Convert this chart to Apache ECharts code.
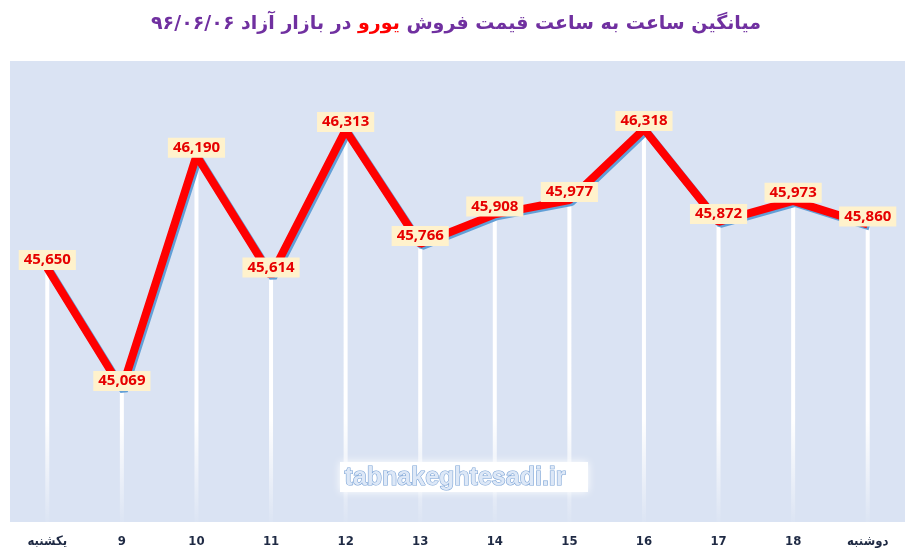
<!DOCTYPE html>
<html>
<head>
<meta charset="utf-8">
<script src="https://cdn.jsdelivr.net/npm/echarts@6/dist/echarts.min.js"></script>
<style>
html, body { margin: 0; padding: 0; background: #fff; }
#plot { width: 912px; height: 556px; }
</style>
</head>
<body>
<div id="plot"></div>
<script>
// hourly euro prices, free market 96/06/06
var hours = ['یکشنبه', '9', '10', '11', '12', '13', '14', '15', '16', '17', '18', 'دوشنبه'];
var prices = [45650, 45069, 46190, 45614, 46313, 45766, 45908, 45977, 46318, 45872, 45973, 45860];
var yMin = 44430, yMax = 46645;

var titleLeft = 'در بازار آزاد ۹۶/۰۶/۰۶';
var titleRed = 'یورو';
var titleRight = 'میانگین ساعت به ساعت قیمت فروش';

var myChart = echarts.init(document.getElementById('plot'));

var option = {
	backgroundColor: '#ffffff',
	animation: false,
	title: {
		left: 'center',
		top: 10,
		text: '{p|' + titleLeft + ' }{r|' + titleRed + '}{p| ' + titleRight + '}',
		textStyle: {
			rich: {
				p: { color: '#7030a0', fontSize: 19, fontWeight: 'bold', fontFamily: 'DejaVu Sans' },
				r: { color: '#ff0000', fontSize: 19, fontWeight: 'bold', fontFamily: 'DejaVu Sans' }
			}
		}
	},
	grid: {
		left: 10, right: 7, top: 61, bottom: 34,
		show: true,
		backgroundColor: '#dae3f3',
		borderWidth: 0
	},
	xAxis: {
		type: 'category',
		data: hours,
		boundaryGap: true,
		axisLine: { show: false },
		axisTick: { show: false },
		splitLine: { show: false },
		axisLabel: {
			color: '#1f2a44',
			fontSize: 13,
			fontWeight: 'bold',
			fontFamily: 'DejaVu Sans Condensed',
			margin: 13
		}
	},
	yAxis: {
		type: 'value',
		min: yMin,
		max: yMax,
		show: false,
		splitLine: { show: false }
	},
	graphic: [
		{
			type: 'rect',
			left: 340, top: 462,
			shape: { width: 248, height: 30 },
			style: { fill: '#ffffff', shadowBlur: 8, shadowColor: '#ffffff' },
			z: 1
		},
		{
			type: 'text',
			left: 344, top: 465,
			style: {
				text: 'tabnakeghtesadi.ir',
				font: 'bold 25px "Liberation Sans"',
				fill: '#dde8f7',
				stroke: '#7ba3d6',
				lineWidth: 1.2
			},
			z: 2
		}
	],
	series: [
		{
			type: 'bar',
			data: prices,
			barWidth: 4,
			z: 1,
			itemStyle: {
				color: {
					type: 'linear', x: 0, y: 420, x2: 0, y2: 522, global: true,
					colorStops: [
						{ offset: 0, color: 'rgba(255,255,255,1)' },
						{ offset: 1, color: 'rgba(255,255,255,0.05)' }
					]
				}
			}
		},
		{
			type: 'line',
			data: prices,
			z: 3,
			symbol: 'circle',
			symbolSize: 1,
			itemStyle: { color: '#ff0000' },
			lineStyle: {
				color: '#ff0000',
				width: 8,
				join: 'bevel',
				shadowColor: 'rgba(91,155,213,0.95)',
				shadowOffsetX: 2,
				shadowOffsetY: 2,
				shadowBlur: 0
			},
			label: {
				show: true,
				position: 'inside',
				offset: [0, -8],
				color: '#e60000',
				fontSize: 15,
				fontWeight: 'bold',
				fontFamily: 'Open Sans',
				backgroundColor: '#fff2cc',
				padding: [3, 5, 2, 5],
				formatter: function (p) {
					return p.value.toLocaleString('en-US');
				}
			}
		}
	]
};

myChart.setOption(option);
</script>
</body>
</html>
